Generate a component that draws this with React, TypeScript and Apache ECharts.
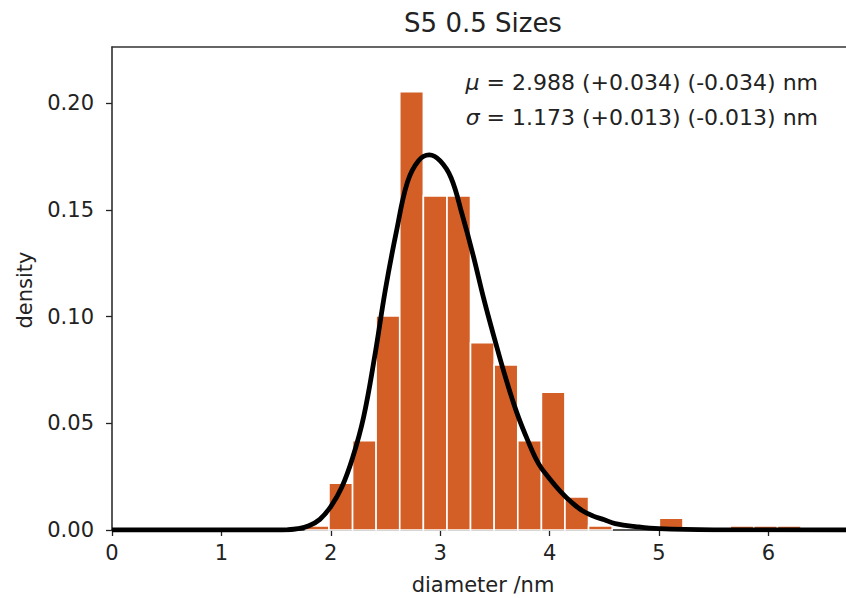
import React, { useEffect, useRef } from "react";
import * as echarts from "echarts";

// Histogram bin edges (nm) and bin heights (density)
const binEdges = [
  1.767, 1.983, 2.199, 2.414, 2.63, 2.846, 3.062, 3.277, 3.493, 3.709, 3.925,
  4.14, 4.356, 4.572, 4.788, 5.003, 5.219, 5.435, 5.651, 5.866, 6.082, 6.298,
];
const binHeights = [
  0.0019, 0.0219, 0.0419, 0.1003, 0.2055, 0.1566, 0.1566, 0.0878, 0.0774,
  0.0419, 0.0646, 0.0155, 0.0019, 0, 0, 0.0055, 0, 0, 0.0019, 0.0019, 0.0019,
];

// Fitted curve
const curveX = [
  0, 1.5, 1.6, 1.7, 1.8, 1.9, 2.0, 2.1, 2.2, 2.3, 2.4, 2.5, 2.6, 2.7, 2.8, 2.9,
  3.0, 3.1, 3.2, 3.3, 3.4, 3.5, 3.6, 3.7, 3.8, 3.9, 4.0, 4.1, 4.2, 4.3, 4.4,
  4.5, 4.6, 4.8, 5.0, 5.5, 6.71,
];
const curveY = [
  0, 0, 0.0001, 0.0006, 0.002, 0.005, 0.011, 0.02, 0.034, 0.053, 0.081, 0.113,
  0.14, 0.163, 0.173, 0.1758, 0.173, 0.165, 0.148, 0.129, 0.108, 0.089, 0.071,
  0.055, 0.042, 0.031, 0.024, 0.018, 0.013, 0.009, 0.0065, 0.0048, 0.003,
  0.0015, 0.0006, 0.0001, 0,
];

const xTicks = [0, 1, 2, 3, 4, 5, 6];
const yTicks = [0, 0.05, 0.1, 0.15, 0.2];

const titleText = "S5 0.5 Sizes";
const xLabel = "diameter /nm";
const yLabel = "density";
const muLine = "{i|μ} = 2.988 (+0.034) (-0.034) nm";
const sigmaLine = "{i|σ} = 1.173 (+0.013) (-0.013) nm";

const FONT = "DejaVu Sans";
const BAR_COLOR = "#D35F27";
const TEXT_COLOR = "#222";

export default function App() {
  const ref = useRef<HTMLDivElement>(null);

  useEffect(() => {
    document.body.style.margin = "0";
    if (!ref.current) return;
    const chart = echarts.init(ref.current, undefined, { renderer: "svg" });

    const histData = binHeights.map((h, i) => [binEdges[i], binEdges[i + 1], h]);
    const curveData = curveX.map((x, i) => [x, curveY[i]]);

    const option: any = {
      animation: false,
      backgroundColor: "#fff",
      grid: { left: 112, right: 0, top: 47, bottom: 68 },
      xAxis: [
        {
          type: "value",
          min: 0,
          max: 6.709,
          position: "bottom",
          axisLine: { show: true, onZero: false, lineStyle: { color: "#222", width: 1.5 } },
          axisTick: {
            show: true,
            length: 6,
            customValues: xTicks,
            lineStyle: { color: "#222", width: 1.3 },
          },
          axisLabel: {
            customValues: xTicks,
            margin: 12,
            fontSize: 21,
            fontFamily: FONT,
            color: TEXT_COLOR,
          },
          splitLine: { show: false },
        },
        {
          type: "value",
          min: 0,
          max: 6.709,
          position: "top",
          axisLine: { show: true, onZero: false, lineStyle: { color: "#333", width: 1.5 } },
          axisTick: { show: false },
          axisLabel: { show: false },
          splitLine: { show: false },
        },
      ],
      yAxis: {
        type: "value",
        min: 0,
        max: 0.2264,
        axisLine: { show: true, onZero: false, lineStyle: { color: "#222", width: 1.5 } },
        axisTick: {
          show: true,
          length: 6,
          customValues: yTicks,
          lineStyle: { color: "#222", width: 1.3 },
        },
        axisLabel: {
          customValues: yTicks,
          margin: 18,
          fontSize: 21,
          fontFamily: FONT,
          color: TEXT_COLOR,
          formatter: (v: number) => v.toFixed(2),
        },
        splitLine: { show: false },
      },
      series: [
        {
          type: "custom",
          xAxisIndex: 0,
          data: histData,
          encode: { x: [0, 1], y: 2 },
          renderItem: (params: any, api: any) => {
            const x0 = api.value(0);
            const x1 = api.value(1);
            const h = api.value(2);
            if (!h) return null;
            const p0 = api.coord([x0, h]);
            const p1 = api.coord([x1, 0]);
            return {
              type: "rect",
              shape: { x: p0[0], y: p0[1], width: p1[0] - p0[0], height: p1[1] - p0[1] },
              style: { fill: BAR_COLOR, stroke: "#fff", lineWidth: 1.6 },
            };
          },
          z: 1,
        },
        {
          type: "line",
          xAxisIndex: 0,
          data: curveData,
          smooth: 0.4,
          showSymbol: false,
          symbol: "none",
          lineStyle: { color: "#000", width: 4.8 },
          z: 3,
        },
      ],
      graphic: [
        {
          type: "text",
          x: 483,
          y: 23,
          style: {
            text: titleText,
            fontSize: 26,
            fontFamily: FONT,
            fill: TEXT_COLOR,
            align: "center",
            verticalAlign: "middle",
          },
        },
        {
          type: "text",
          x: 483,
          y: 585,
          style: {
            text: xLabel,
            fontSize: 21,
            fontFamily: FONT,
            fill: TEXT_COLOR,
            align: "center",
            verticalAlign: "middle",
          },
        },
        {
          type: "text",
          x: 25,
          y: 290,
          rotation: Math.PI / 2,
          style: {
            text: yLabel,
            fontSize: 21,
            fontFamily: FONT,
            fill: TEXT_COLOR,
            align: "center",
            verticalAlign: "middle",
          },
        },
        {
          type: "text",
          x: 818,
          y: 82,
          style: {
            text: muLine,
            fontSize: 22,
            fontFamily: FONT,
            fill: TEXT_COLOR,
            align: "right",
            verticalAlign: "middle",
            rich: { i: { fontStyle: "italic", fontSize: 22, fontFamily: FONT, fill: TEXT_COLOR } },
          },
        },
        {
          type: "text",
          x: 818,
          y: 117,
          style: {
            text: sigmaLine,
            fontSize: 22,
            fontFamily: FONT,
            fill: TEXT_COLOR,
            align: "right",
            verticalAlign: "middle",
            rich: { i: { fontStyle: "italic", fontSize: 22, fontFamily: FONT, fill: TEXT_COLOR } },
          },
        },
      ],
    };

    chart.setOption(option);
    return () => chart.dispose();
  }, []);

  return <div ref={ref} style={{ width: 846, height: 598 }} />;
}
